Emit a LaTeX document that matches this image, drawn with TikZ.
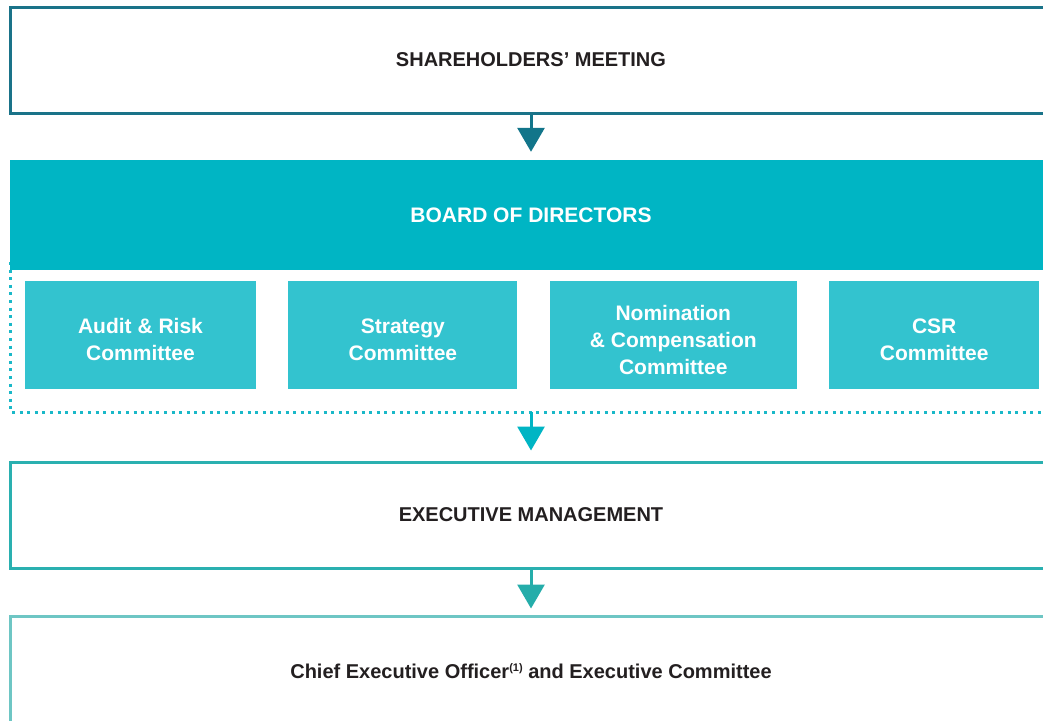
\documentclass[tikz,border=0pt]{standalone}
\usepackage{fontspec}
\setmainfont{Liberation Sans}
\usepackage{xcolor}
\usetikzlibrary{positioning,arrows.meta}
\definecolor{govdark}{HTML}{1A7389}
\definecolor{govarrow}{HTML}{12758A}
\definecolor{govboard}{HTML}{00B5C4}
\definecolor{govcomm}{HTML}{33C3CF}
\definecolor{govdots}{HTML}{1AB8C8}
\definecolor{govexec}{HTML}{2AB0B0}
\definecolor{govexecarrow}{HTML}{25ADAA}
\definecolor{govceo}{HTML}{6EC6C4}
\definecolor{govtext}{HTML}{231F20}
\newcommand{\govnote}[1]{\raisebox{6.5pt}{\fontsize{11}{11}\selectfont#1}}
\tikzset{
    govlevel/.style={draw, line width=3pt, fill=white, align=center, minimum width=1042pt, minimum height=106pt, inner sep=0pt, text=govtext, font=\bfseries\fontsize{20}{24}\selectfont},
    govboardbox/.style={fill=govboard, align=center, minimum width=1042pt, minimum height=110pt, inner sep=0pt, text=white, font=\bfseries\fontsize{21}{25}\selectfont},
    govcommittee/.style={fill=govcomm, align=center, minimum height=108pt, inner sep=0pt, text=white, font=\bfseries\fontsize{21}{27}\selectfont, text height=52pt},
    govflow/.style={draw, line width=3pt, -{Triangle[width=27pt, length=24pt]}},
    govdotted/.style={draw=govdots, line width=3pt, dash pattern=on 3pt off 4.6pt}
}
\begin{document}
\begin{tikzpicture}[x=1pt, y=-1pt, node distance=32pt]
    \clip (0,0) rectangle (1043,720);
    \fill[white] (0,0) rectangle (1043,720);
    % dotted frame round the board and its committees
    \draw[govdotted] (10,262) -- (10,412) -- (1060,412);
    \coordinate (dotbottom) at (531,412);

    \node[govlevel, draw=govdark] (meeting) at (531,60) {SHAREHOLDERS’ MEETING};
    \node[govboardbox] (board) at (531,215) {BOARD OF DIRECTORS};
    \node[govcommittee, minimum width=231pt] (audit) at (140.5,335) {Audit \& Risk\\Committee};
    \node[govcommittee, minimum width=229pt, right=of audit] (strategy) {Strategy\\Committee};
    \node[govcommittee, minimum width=247pt, right=of strategy, text height=79pt] (nomination) {Nomination\\\& Compensation\\Committee};
    \node[govcommittee, minimum width=210pt, right=of nomination] (csr) {CSR\\Committee};
    \node[govlevel, draw=govexec] (executive) at (531,515) {EXECUTIVE MANAGEMENT};
    \node[govlevel, draw=govceo, minimum height=110pt] (ceo) at (531,671) {Chief Executive Officer\govnote{(1)} and Executive Committee};

    \draw[govflow, govarrow, shorten >=8pt] (meeting) -- (board);
    \draw[govflow, govboard, shorten >=10pt] (dotbottom) -- (executive);
    \draw[govflow, govexecarrow, shorten >=6pt] (executive) -- (ceo);
\end{tikzpicture}
\end{document}
